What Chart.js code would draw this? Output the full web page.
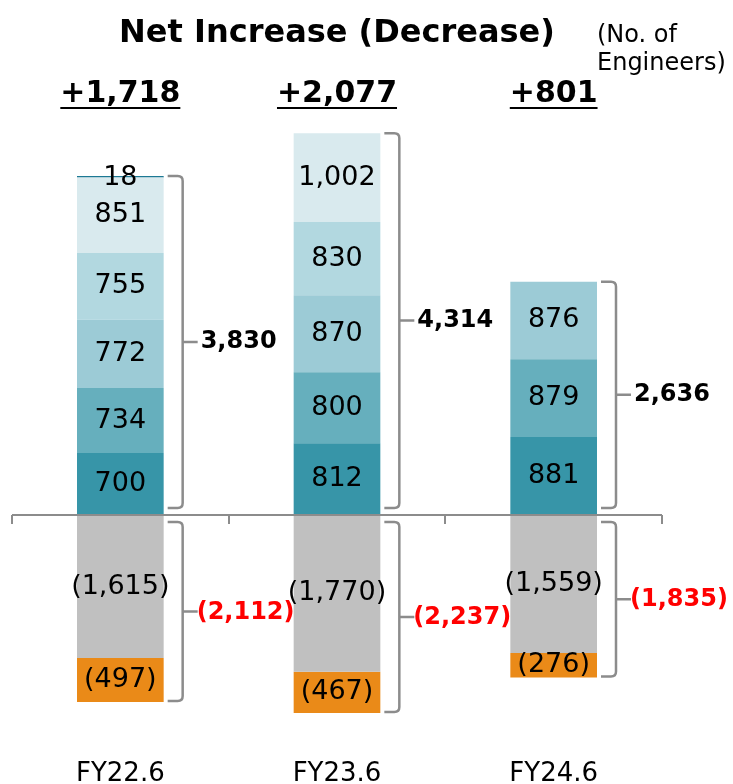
<!DOCTYPE html>
<html>
<head>
<meta charset="utf-8">
<title>Net Increase (Decrease)</title>
<script src="https://cdn.jsdelivr.net/npm/chart.js@4/dist/chart.umd.min.js"></script>
<style>
  html, body { margin: 0; padding: 0; background: #fff; }
  #wrap { width: 733px; height: 784px; position: relative; }
</style>
</head>
<body>
<div id="wrap"><canvas id="netChart"></canvas></div>
<script>
// ---- data ----
const periods = ["FY22.6", "FY23.6", "FY24.6"];

// increases, bottom layer first
const inc1 = [700, 812, 881];
const inc2 = [734, 800, 879];
const inc3 = [772, 870, 876];
const inc4 = [755, 830, null];
const inc5 = [851, 1002, null];
const inc6 = [18, null, null];

// decreases
const dec1 = [-1615, -1770, -1559];
const dec2 = [-497, -467, -276];

const incLayers = [inc1, inc2, inc3, inc4, inc5, inc6];
const decLayers = [dec1, dec2];

const incColors = ["#3795a8", "#66afbd", "#9ccbd6", "#b2d8e0", "#d9eaee", "#1d7994"];
const decColors = ["#c0c0c0", "#ea8a18"];

const sumAt = (layers, i) => layers.reduce((s, l) => s + (l[i] || 0), 0);
const incTotals = periods.map((_, i) => sumAt(incLayers, i));
const decTotals = periods.map((_, i) => sumAt(decLayers, i));
const netTotals = periods.map((_, i) => incTotals[i] + decTotals[i]);

const fmt = v => {
  const s = Math.abs(v).toLocaleString("en-US");
  return v < 0 ? "(" + s + ")" : s;
};

const FONT = "'DejaVu Sans', Verdana, sans-serif";

const datasets = [];
incLayers.forEach((d, k) => datasets.push({ data: d, backgroundColor: incColors[k] }));
decLayers.forEach((d, k) => datasets.push({ data: d, backgroundColor: decColors[k] }));

// ---- drawing helpers ----
function bracket(ctx, x0, yTop, yBot) {
  const x1 = x0 + 15, r = 5, mid = (yTop + yBot) / 2;
  ctx.beginPath();
  ctx.moveTo(x0, yTop);
  ctx.lineTo(x1 - r, yTop);
  ctx.quadraticCurveTo(x1, yTop, x1, yTop + r);
  ctx.lineTo(x1, yBot - r);
  ctx.quadraticCurveTo(x1, yBot, x1 - r, yBot);
  ctx.lineTo(x0, yBot);
  ctx.moveTo(x1, mid);
  ctx.lineTo(x1 + 15, mid);
  ctx.stroke();
  return mid;
}

const annotations = {
  id: "annotations",
  afterDatasetsDraw(chart) {
    const { ctx, chartArea, scales } = chart;
    const y = scales.y;
    const zero = y.getPixelForValue(0);
    ctx.save();

    // segment values
    ctx.textAlign = "center";
    ctx.textBaseline = "middle";
    ctx.fillStyle = "#000";
    ctx.font = "27px " + FONT;
    chart.data.datasets.forEach((ds, di) => {
      chart.getDatasetMeta(di).data.forEach((el, i) => {
        const v = ds.data[i];
        if (v == null) return;
        // a sliver too thin for its label gets it centred on its top edge
        const yy = v < 30 && v > 0 ? el.y + 2 : (el.y + el.base) / 2;
        ctx.fillText(fmt(v), el.x, yy);
      });
    });

    // zero line with category dividers
    ctx.strokeStyle = "#8c8c8c";
    ctx.lineWidth = 2;
    ctx.beginPath();
    ctx.moveTo(chartArea.left, zero);
    ctx.lineTo(chartArea.right, zero);
    const step = (chartArea.right - chartArea.left) / periods.length;
    for (let i = 0; i <= periods.length; i++) {
      const xx = Math.round(chartArea.left + step * i);
      ctx.moveTo(xx, zero);
      ctx.lineTo(xx, zero + 9);
    }
    ctx.stroke();

    // brackets and totals
    const bars = chart.getDatasetMeta(0).data;
    ctx.lineWidth = 2.5;
    ctx.strokeStyle = "#8c8c8c";
    ctx.textAlign = "left";
    ctx.font = "bold 24px " + FONT;
    periods.forEach((p, i) => {
      const right = bars[i].x + bars[i].width / 2 + 4;
      let m = bracket(ctx, right, y.getPixelForValue(incTotals[i]), zero - 7);
      ctx.fillStyle = "#000";
      ctx.fillText(fmt(incTotals[i]), right + 33, m);
      m = bracket(ctx, right, zero + 7, y.getPixelForValue(decTotals[i]) - 1);
      ctx.fillStyle = "#ff0000";
      ctx.fillText(fmt(decTotals[i]), right + 29, m + 1);
    });

    // net change above each column
    ctx.fillStyle = "#000";
    ctx.strokeStyle = "#000";
    ctx.lineWidth = 2;
    ctx.textAlign = "center";
    ctx.textBaseline = "alphabetic";
    ctx.font = "bold 30px " + FONT;
    periods.forEach((p, i) => {
      const s = "+" + netTotals[i].toLocaleString("en-US");
      const cx = bars[i].x;
      ctx.fillText(s, cx, 102);
      const w = ctx.measureText(s).width;
      ctx.beginPath();
      ctx.moveTo(cx - w / 2, 108);
      ctx.lineTo(cx + w / 2, 108);
      ctx.stroke();
    });

    // title and unit
    ctx.font = "bold 32px " + FONT;
    ctx.fillText("Net Increase (Decrease)", 337, 42);
    ctx.textAlign = "left";
    ctx.font = "24px " + FONT;
    ctx.fillText("(No. of", 597, 42);
    ctx.fillText("Engineers)", 597, 70);
    ctx.restore();
  }
};

new Chart(document.getElementById("netChart"), {
  type: "bar",
  data: { labels: periods, datasets },
  options: {
    responsive: true,
    maintainAspectRatio: false,
    animation: false,
    layout: { padding: { top: 100, left: 12, right: 71, bottom: -6 } },
    datasets: { bar: { categoryPercentage: 1, barPercentage: 0.4 } },
    plugins: { legend: { display: false }, tooltip: { enabled: false } },
    scales: {
      x: {
        stacked: true,
        grid: { display: false, drawTicks: false },
        border: { display: false },
        ticks: { color: "#000", padding: 4, font: { family: FONT, size: 26, lineHeight: 0.92 } }
      },
      y: {
        stacked: true,
        display: false,
        min: -2746,
        max: 4689
      }
    }
  },
  plugins: [annotations]
});
</script>
</body>
</html>
